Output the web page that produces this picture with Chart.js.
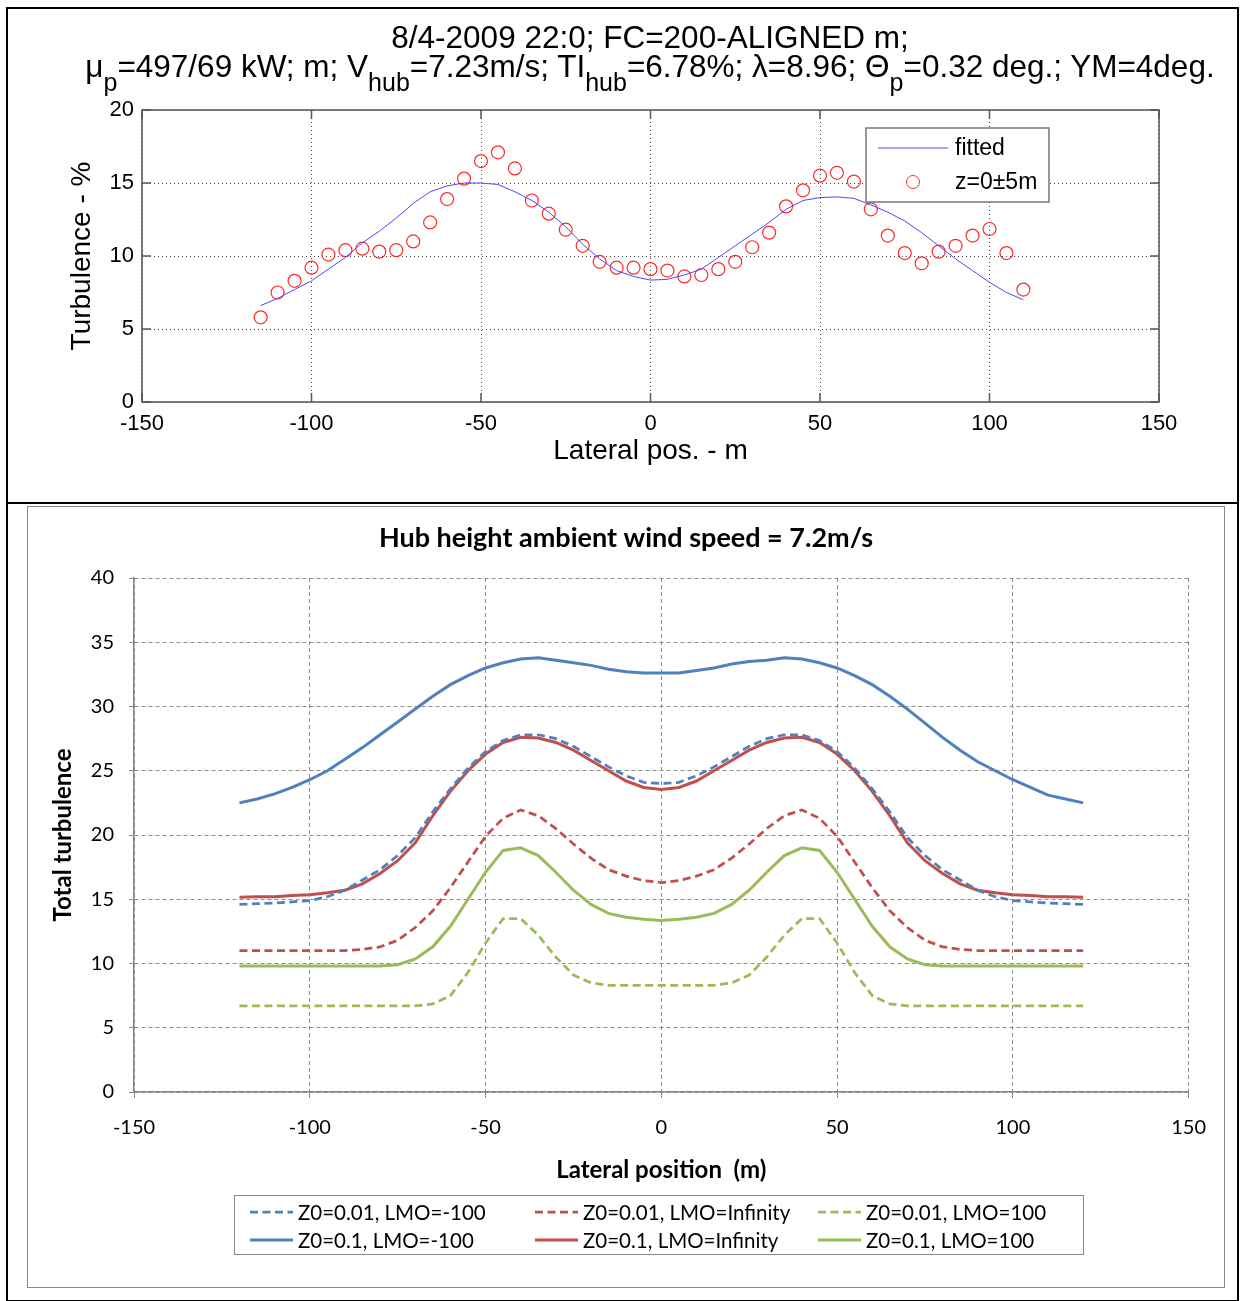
<!DOCTYPE html>
<html>
<head>
<meta charset="utf-8">
<script src="https://cdn.jsdelivr.net/npm/chart.js@4.4.1/dist/chart.umd.min.js"></script>
<style>
    body { margin: 0; background: #fff; }
    #page { position: relative; width: 1240px; height: 1301px; overflow: hidden; }
    #frame { position: absolute; left: 6px; top: 7px; width: 1229px; height: 1291px; border: 2px solid #000; }
    #divider { position: absolute; left: 6px; top: 502px; width: 1233px; height: 2px; background: #000; }
    .tl { position: absolute; left: 0; width: 1300px; text-align: center; font-family: "Liberation Sans", Arial, sans-serif; font-size: 31.5px; line-height: 30px; color: #000; white-space: nowrap; }
    .sb { position: relative; top: 14px; font-size: 25px; }
    #topChart { position: absolute; left: 8px; top: 8px; }
    #bottomBox { position: absolute; left: 27px; top: 506px; width: 1196px; height: 780px; border: 1px solid #8a8a8a; }
</style>
</head>
<body>
<div id="page">
    <div id="frame"></div>
    <div id="divider"></div>
    <canvas id="topChart" width="1230" height="493"></canvas>
    <div class="tl" style="top:22px;">8/4-2009 22:0; FC=200-ALIGNED m;</div>
    <div class="tl" style="top:51px;">&mu;<span class="sb">p</span>=497/69 kW; m; V<span class="sb">hub</span>=7.23m/s; TI<span class="sb">hub</span>=6.78%; &lambda;=8.96; &Theta;<span class="sb">p</span>=0.32 deg.; YM=4deg.</div>
    <div id="bottomBox"><canvas id="bottomChart" width="1196" height="780"></canvas></div>
</div>

<script>

// ---- top chart: measured profile and fitted curve ----
const topPos = [-115, -110, -105, -100, -95, -90, -85, -80, -75, -70, -65, -60, -55, -50, -45, -40, -35, -30, -25, -20, -15, -10, -5,
    0, 5, 10, 15, 20, 25, 30, 35, 40, 45, 50, 55, 60, 65, 70, 75, 80, 85, 90, 95, 100, 105, 110];
const fittedTI = [6.6, 7.1, 7.7, 8.3, 9.1, 9.9, 10.9, 11.7, 12.6, 13.6, 14.4, 14.8, 15.0, 15.0, 14.9, 14.4, 13.8, 13.0, 12.0, 10.8, 9.8, 9.0, 8.6,
    8.35, 8.4, 8.7, 9.1, 9.9, 10.7, 11.5, 12.3, 13.2, 13.8, 14.0, 14.05, 13.95, 13.5, 13.0, 12.4, 11.6, 10.7, 9.8, 9.0, 8.2, 7.5, 7.0];
const measuredTI = [5.8, 7.5, 8.3, 9.2, 10.1, 10.4, 10.5, 10.3, 10.4, 11.0, 12.3, 13.9, 15.3, 16.5, 17.1, 16.0, 13.8, 12.9, 11.8, 10.7, 9.6, 9.2, 9.2,
    9.1, 9.0, 8.6, 8.7, 9.1, 9.6, 10.6, 11.6, 13.4, 14.5, 15.5, 15.7, 15.1, 13.2, 11.4, 10.2, 9.5, 10.3, 10.7, 11.4, 11.85, 10.2, 7.7];

// ---- bottom chart: modelled total turbulence ----
const lateralPos = [-120, -115, -110, -105, -100, -95, -90, -85, -80, -75, -70, -65, -60, -55, -50, -45, -40, -35, -30, -25, -20, -15, -10, -5,
    0, 5, 10, 15, 20, 25, 30, 35, 40, 45, 50, 55, 60, 65, 70, 75, 80, 85, 90, 95, 100, 105, 110, 115, 120];
const z001Unstable = [14.6, 14.65, 14.7, 14.8, 14.9, 15.2, 15.7, 16.5, 17.3, 18.4, 19.8, 21.8, 23.6, 25.2, 26.5, 27.35, 27.8, 27.8, 27.5, 26.9, 26.1, 25.3, 24.6, 24.1,
    24.0, 24.1, 24.6, 25.3, 26.1, 26.9, 27.5, 27.8, 27.8, 27.35, 26.5, 25.2, 23.6, 21.8, 19.8, 18.4, 17.3, 16.5, 15.7, 15.2, 14.9, 14.8, 14.7, 14.65, 14.6];
const z001Neutral = [11.0, 11.0, 11.0, 11.0, 11.0, 11.0, 11.0, 11.1, 11.3, 11.8, 12.8, 14.1, 15.9, 17.9, 19.9, 21.3, 21.95, 21.5, 20.5, 19.3, 18.2, 17.3, 16.8, 16.45,
    16.3, 16.45, 16.8, 17.3, 18.2, 19.3, 20.5, 21.5, 21.95, 21.3, 19.9, 17.9, 15.9, 14.1, 12.8, 11.8, 11.3, 11.1, 11.0, 11.0, 11.0, 11.0, 11.0, 11.0, 11.0];
const z001Stable = [6.7, 6.7, 6.7, 6.7, 6.7, 6.7, 6.7, 6.7, 6.7, 6.7, 6.7, 6.85, 7.5, 9.3, 11.6, 13.5, 13.5, 12.2, 10.5, 9.1, 8.5, 8.3, 8.3, 8.3,
    8.3, 8.3, 8.3, 8.3, 8.5, 9.1, 10.5, 12.2, 13.5, 13.5, 11.6, 9.3, 7.5, 6.85, 6.7, 6.7, 6.7, 6.7, 6.7, 6.7, 6.7, 6.7, 6.7, 6.7, 6.7];
const z01Unstable = [22.5, 22.8, 23.2, 23.7, 24.3, 25.0, 25.9, 26.8, 27.8, 28.8, 29.8, 30.8, 31.7, 32.4, 33.0, 33.4, 33.7, 33.8, 33.6, 33.4, 33.2, 32.9, 32.7, 32.6,
    32.6, 32.6, 32.8, 33.0, 33.3, 33.5, 33.6, 33.8, 33.7, 33.4, 33.0, 32.4, 31.7, 30.8, 29.8, 28.7, 27.6, 26.6, 25.7, 25.0, 24.3, 23.7, 23.1, 22.8, 22.5];
const z01Neutral = [15.15, 15.2, 15.2, 15.3, 15.35, 15.5, 15.7, 16.2, 17.0, 18.0, 19.4, 21.5, 23.4, 25.0, 26.3, 27.2, 27.6, 27.55, 27.2, 26.6, 25.8, 25.0, 24.2, 23.7,
    23.55, 23.7, 24.2, 25.0, 25.8, 26.6, 27.2, 27.55, 27.6, 27.2, 26.3, 25.0, 23.4, 21.5, 19.4, 18.0, 17.0, 16.2, 15.7, 15.5, 15.35, 15.3, 15.2, 15.2, 15.15];
const z01Stable = [9.8, 9.8, 9.8, 9.8, 9.8, 9.8, 9.8, 9.8, 9.8, 9.9, 10.35, 11.3, 12.9, 15.0, 17.1, 18.8, 19.0, 18.4, 17.1, 15.7, 14.6, 13.9, 13.6, 13.45,
    13.35, 13.45, 13.6, 13.9, 14.6, 15.7, 17.1, 18.4, 19.0, 18.8, 17.1, 15.0, 12.9, 11.3, 10.35, 9.9, 9.8, 9.8, 9.8, 9.8, 9.8, 9.8, 9.8, 9.8, 9.8];

const seriesNames = ['Z0=0.01, LMO=-100', 'Z0=0.01, LMO=Infinity', 'Z0=0.01, LMO=100', 'Z0=0.1, LMO=-100', 'Z0=0.1, LMO=Infinity', 'Z0=0.1, LMO=100'];

const matlabFont = '"Liberation Sans", Arial, sans-serif';
const excelFont = 'Lato, "Open Sans", sans-serif';

function toPoints(xs, ys) {
    return xs.map((x, i) => ({ x: x, y: ys[i] }));
}

// box with inward ticks, like a matlab axes
const matlabBox = {
    id: 'matlabBox',
    afterDraw(chart) {
        const ctx = chart.ctx;
        const a = chart.chartArea;
        const sx = chart.scales.x;
        const sy = chart.scales.y;
        ctx.save();
        ctx.strokeStyle = '#555';
        ctx.lineWidth = 1.5;
        ctx.strokeRect(a.left, a.top, a.right - a.left, a.bottom - a.top);
        ctx.beginPath();
        sx.ticks.forEach(t => {
            const px = sx.getPixelForValue(t.value);
            ctx.moveTo(px, a.bottom); ctx.lineTo(px, a.bottom - 9);
            ctx.moveTo(px, a.top); ctx.lineTo(px, a.top + 9);
        });
        sy.ticks.forEach(t => {
            const py = sy.getPixelForValue(t.value);
            ctx.moveTo(a.left, py); ctx.lineTo(a.left + 9, py);
            ctx.moveTo(a.right, py); ctx.lineTo(a.right - 9, py);
        });
        ctx.stroke();

        // legend box, upper right
        const bx = a.left + 724, by = a.top + 18, bw = 183, bh = 74;
        ctx.fillStyle = '#fff';
        ctx.fillRect(bx, by, bw, bh);
        ctx.strokeStyle = '#777';
        ctx.lineWidth = 1.5;
        ctx.strokeRect(bx, by, bw, bh);
        const ds = chart.data.datasets;
        ctx.strokeStyle = ds[0].borderColor;
        ctx.lineWidth = 1;
        ctx.beginPath();
        ctx.moveTo(bx + 12, by + 20); ctx.lineTo(bx + 82, by + 20);
        ctx.stroke();
        ctx.strokeStyle = ds[1].borderColor;
        ctx.beginPath();
        ctx.arc(bx + 47, by + 54, 6.5, 0, Math.PI * 2);
        ctx.stroke();
        ctx.fillStyle = '#000';
        ctx.font = '23px ' + matlabFont;
        ctx.textBaseline = 'middle';
        ctx.textAlign = 'left';
        ctx.fillText(ds[0].label, bx + 89, by + 21);
        ctx.fillText(ds[1].label, bx + 89, by + 55);
        ctx.restore();
    }
};

function GenerateTopChart() {

    const ctx = document.getElementById('topChart');

    new Chart(ctx, {
        type: 'scatter',
        data: {
            datasets: [
                {
                    label: 'fitted',
                    data: toPoints(topPos, fittedTI),
                    showLine: true,
                    borderColor: '#4848ff',
                    borderWidth: 1,
                    pointRadius: 0,
                    tension: 0
                },
                {
                    label: 'z=0\u00b15m',
                    data: toPoints(topPos, measuredTI),
                    showLine: false,
                    borderColor: '#ff2a2a',
                    backgroundColor: 'rgba(0,0,0,0)',
                    borderWidth: 1.2,
                    pointRadius: 6.5,
                    pointStyle: 'circle'
                }
            ]
        },
        options: {
            responsive: false,
            animation: false,
            layout: { padding: { top: 102, right: 79, bottom: 29, left: 0 } },
            plugins: {
                legend: { display: false },
                tooltip: { enabled: false }
            },
            scales: {
                x: {
                    type: 'linear',
                    min: -150,
                    max: 150,
                    ticks: { stepSize: 50, color: '#000', padding: 9, font: { family: matlabFont, size: 22 } },
                    grid: { color: '#444', drawTicks: false },
                    border: { display: false, dash: [1, 3] },
                    title: { display: true, text: 'Lateral pos. - m', color: '#000', font: { family: matlabFont, size: 28 }, padding: { top: 0, bottom: 4 } },
                    afterFit: s => { s.height = 70; }
                },
                y: {
                    min: 0,
                    max: 20,
                    ticks: { stepSize: 5, color: '#000', padding: 8, font: { family: matlabFont, size: 22 } },
                    grid: { color: '#444', drawTicks: false },
                    border: { display: false, dash: [1, 3] },
                    title: { display: true, text: 'Turbulence - %', color: '#000', font: { family: matlabFont, size: 28 }, padding: { top: 57, bottom: 0 } },
                    afterFit: s => { s.width = 134; }
                }
            }
        },
        plugins: [matlabBox]
    });
}

// excel style title and legend table under the axis title
const excelDecor = {
    id: 'excelDecor',
    afterDraw(chart) {
        const ctx = chart.ctx;
        const a = chart.chartArea;
        ctx.save();
        ctx.fillStyle = '#000';
        ctx.font = 'bold 27px ' + excelFont;
        ctx.textAlign = 'center';
        ctx.textBaseline = 'middle';
        ctx.fillText('Hub height ambient wind speed = 7.2m/s', chart.width / 2, 31);

        const bx = a.left + 100, by = a.bottom + 103, bw = 849, bh = 59;
        ctx.strokeStyle = '#8a8a8a';
        ctx.lineWidth = 1;
        ctx.strokeRect(bx + 0.5, by + 0.5, bw, bh);
        const colSample = [16, 301, 584];
        ctx.font = '20.5px ' + excelFont;
        ctx.textAlign = 'left';
        chart.data.datasets.forEach((ds, i) => {
            const col = i % 3;
            const row = Math.floor(i / 3);
            const x0 = bx + colSample[col];
            const y0 = by + 17 + row * 28;
            ctx.strokeStyle = ds.borderColor;
            ctx.lineWidth = ds.borderWidth;
            ctx.setLineDash(ds.borderDash || []);
            ctx.beginPath();
            ctx.moveTo(x0, y0); ctx.lineTo(x0 + 43, y0);
            ctx.stroke();
            ctx.setLineDash([]);
            ctx.fillStyle = '#000';
            ctx.fillText(ds.label, x0 + 48, y0 + 1);
        });
        ctx.restore();
    }
};

function GenerateBottomChart() {

    const ctx = document.getElementById('bottomChart');
    const blue = '#4f81bd', red = '#c0504d', green = '#9bbb59';
    const dash = [8, 4.5];

    new Chart(ctx, {
        type: 'line',
        data: {
            datasets: [
                { label: seriesNames[0], data: toPoints(lateralPos, z001Unstable), borderColor: blue, borderWidth: 2.75, borderDash: dash },
                { label: seriesNames[1], data: toPoints(lateralPos, z001Neutral), borderColor: red, borderWidth: 2.75, borderDash: dash },
                { label: seriesNames[2], data: toPoints(lateralPos, z001Stable), borderColor: green, borderWidth: 2.75, borderDash: dash },
                { label: seriesNames[3], data: toPoints(lateralPos, z01Unstable), borderColor: blue, borderWidth: 3 },
                { label: seriesNames[4], data: toPoints(lateralPos, z01Neutral), borderColor: red, borderWidth: 3 },
                { label: seriesNames[5], data: toPoints(lateralPos, z01Stable), borderColor: green, borderWidth: 3 }
            ]
        },
        options: {
            responsive: false,
            animation: false,
            layout: { padding: { top: 71, right: 34, bottom: 95, left: 0 } },
            elements: { point: { radius: 0 }, line: { tension: 0, fill: false } },
            plugins: {
                legend: { display: false },
                tooltip: { enabled: false }
            },
            scales: {
                x: {
                    type: 'linear',
                    min: -150,
                    max: 150,
                    ticks: { stepSize: 50, color: '#000', padding: 18, font: { family: excelFont, size: 20 } },
                    grid: { color: '#8c8c8c', tickLength: 6, tickColor: '#868686' },
                    border: { color: '#868686', width: 1.5, dash: [4, 3] },
                    title: { display: true, text: 'Lateral position  (m)', color: '#000', font: { family: excelFont, size: 24, weight: 'bold' }, padding: { top: 0, bottom: 7 } },
                    afterFit: s => { s.height = 100; }
                },
                y: {
                    min: 0,
                    max: 40,
                    ticks: { stepSize: 5, color: '#000', padding: 15, font: { family: excelFont, size: 20 } },
                    grid: { color: '#8c8c8c', tickLength: 5, tickColor: '#868686' },
                    border: { color: '#868686', width: 1.5, dash: [4, 3] },
                    title: { display: true, text: 'Total turbulence', color: '#000', font: { family: excelFont, size: 24, weight: 'bold' }, padding: { top: 21, bottom: 0 } },
                    afterFit: s => { s.width = 106; }
                }
            }
        },
        plugins: [excelDecor]
    });
}

GenerateTopChart();
GenerateBottomChart();

</script>
</body>
</html>
